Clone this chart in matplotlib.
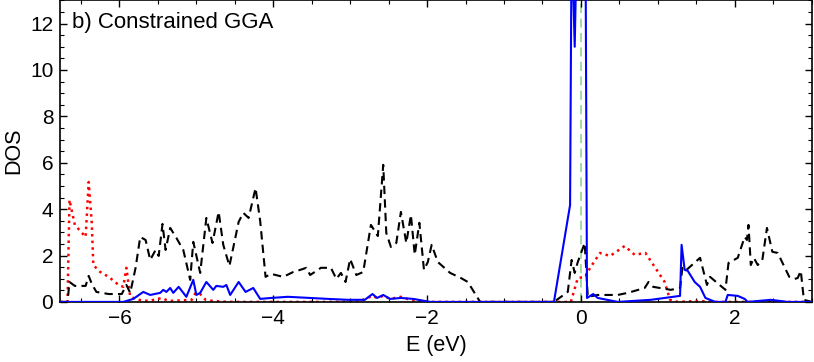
import numpy as np
import matplotlib
matplotlib.use('Agg')
import matplotlib.pyplot as plt
from matplotlib.ticker import MultipleLocator

plt.rcParams['font.family'] = ['Liberation Sans', 'DejaVu Sans']

# total DOS (black dashed)
e_tot = [-6.77, -6.675, -6.65, -6.58, -6.44, -6.40, -6.36, -6.30, -6.14, -5.97, -5.91, -5.86,
         -5.79, -5.73, -5.66, -5.60, -5.53, -5.49, -5.44, -5.40, -5.34, -5.26, -5.17, -5.08,
         -5.04, -4.95, -4.87, -4.79, -4.71, -4.65, -4.57, -4.45, -4.39, -4.32, -4.23, -4.17,
         -4.10, -4.03, -3.87, -3.74, -3.65, -3.57, -3.52, -3.38, -3.25, -3.18, -3.12, -3.06,
         -3.00, -2.92, -2.83, -2.73, -2.64, -2.57, -2.53, -2.47, -2.40, -2.34, -2.27, -2.21,
         -2.16, -2.10, -2.04, -1.99, -1.94, -1.86, -1.70, -1.56, -1.47, -1.31, -0.35, -0.17,
         -0.12, -0.08, -0.04, 0.05, 0.09, 0.22, 0.48, 0.61, 0.83, 0.88, 0.94, 1.17, 1.29,
         1.32, 1.36, 1.55, 1.64, 1.68, 1.88, 1.92, 2.04, 2.13, 2.16, 2.18, 2.21, 2.25, 2.30,
         2.36, 2.42, 2.49, 2.56, 2.71, 2.78, 2.82, 2.86, 2.90, 3.0]
dos_tot = [0, 0, 0.86, 0.69, 0.69, 1.12, 0.78, 0.43, 0.34, 0.34, 0.73, 0.39,
           1.47, 2.80, 2.67, 1.81, 2.24, 1.98, 3.36, 2.24, 3.19, 2.76, 2.24, 0.95,
           2.59, 1.25, 3.62, 2.54, 3.88, 2.46, 1.55, 3.45, 3.84, 3.62, 4.91, 3.49,
           1.08, 1.21, 1.08, 1.29, 1.38, 1.47, 1.16, 1.47, 1.47, 0.99, 1.25, 0.86,
           1.85, 1.16, 1.29, 3.32, 2.84, 5.91, 2.97, 2.37, 2.54, 3.88, 2.54, 3.75,
           2.03, 3.41, 1.38, 1.72, 2.46, 1.72, 1.25, 1.03, 0.86, 0, 0, 0.43,
           1.81, 1.25, 1.72, 2.54, 0.22, 0.30, 0.30, 0.39, 0.60, 0.86, 0.65, 0.52, 0.60,
           1.47, 1.34, 1.90, 0.73, 1.08, 0.52, 1.68, 1.90, 2.80, 2.67, 3.32, 1.59, 1.90, 1.59,
           1.81, 3.19, 2.16, 2.11, 1.08, 0.99, 1.03, 1.34, 0.09, 0]

# d-projected DOS (blue solid)
e_d = [-6.77, -5.95, -5.82, -5.69, -5.60, -5.47, -5.43, -5.39, -5.34, -5.30, -5.23, -5.13,
       -5.04, -5.00, -4.95, -4.87, -4.78, -4.74, -4.65, -4.61, -4.56, -4.45, -4.36, -4.26,
       -4.17, -4.03, -3.81, -3.52, -3.29, -3.03, -2.81, -2.71, -2.65, -2.57, -2.48, -2.34,
       -2.18, -1.96, -0.35, -0.14, -0.12, -0.08, -0.05, 0.0, 0.06, 0.08, 0.16, 0.22, 0.48,
       0.91, 1.29, 1.31, 1.35, 1.39, 1.48, 1.55, 1.62, 1.75, 1.88, 1.91, 2.04, 2.13, 2.17,
       2.47, 2.69, 3.0]
dos_d = [0, 0, 0.13, 0.43, 0.30, 0.39, 0.52, 0.43, 0.60, 0.39, 0.65, 0.22,
         0.95, 0.30, 0.39, 0.86, 0.52, 0.69, 0.65, 0.73, 0.30, 0.86, 0.43, 0.60,
         0.13, 0.17, 0.22, 0.17, 0.13, 0.09, 0.09, 0.34, 0.17, 0.30, 0.13, 0.17,
         0.13, 0, 0, 4.18, 16.0, 11.0, 16.0, 15.0, 16.0, 0.17, 0.34, 0.17, 0,
         0.09, 0.26, 2.46, 1.38, 1.34, 0.86, 0.65, 0.17, 0, 0, 0.30, 0.26, 0.13, 0,
         0.09, 0, 0]

# p-projected DOS (red dotted)
e_p = [-6.77, -6.675, -6.65, -6.58, -6.44, -6.40, -6.36, -6.34, -6.25, -6.14, -6.01, -5.95,
       -5.91, -5.86, -5.75, -5.62, -5.45, -5.36, -5.06, -5.01, -4.95, -4.88, -4.78, -4.58,
       -2.90, -2.71, -2.65, -2.57, -2.48, -2.34, -2.22, -2.05, -0.13, -0.04, 0.06, 0.12,
       0.25, 0.38, 0.57, 0.70, 0.84, 0.96, 1.09, 1.16, 1.26, 1.52, 1.78, 3.0]
dos_p = [0, 0, 4.40, 3.32, 2.80, 5.17, 3.41, 1.59, 1.29, 1.08, 0.73, 0.65,
         1.47, 0.22, 0.09, 0.04, 0.17, 0.04, 0.09, 0.39, 0.34, 0.09, 0.04, 0,
         0, 0.26, 0.17, 0.26, 0.13, 0.22, 0.09, 0, 0, 1.03, 1.08, 1.47,
         2.11, 1.98, 2.41, 2.03, 2.11, 1.51, 0.86, 0.09, 0, 0.04, 0, 0]

fig = plt.figure(figsize=(8.14, 3.62), dpi=100)
ax = fig.add_axes([0.074, 0.166, 0.923, 0.833])

ax.axvline(0, color='#9ad89a', ls=(0, (5, 3)), lw=1.3, zorder=1)
ax.plot(e_p, dos_p, color='red', ls=':', lw=1.8, zorder=2)
ax.plot(e_tot, dos_tot, color='black', ls=(0, (4, 2.5)), lw=1.5, zorder=3)
ax.plot(e_d, dos_d, color='blue', ls='-', lw=1.5, zorder=4)

ax.set_xlim(-6.77, 3.0)
ax.set_ylim(0, 13)
ax.xaxis.set_major_locator(MultipleLocator(2))
ax.xaxis.set_minor_locator(MultipleLocator(0.5))
ax.yaxis.set_major_locator(MultipleLocator(2))
ax.yaxis.set_minor_locator(MultipleLocator(0.5))
ax.tick_params(which='both', direction='in', top=True, right=True, labelsize=15)
ax.tick_params(which='major', length=5, width=1, pad=5)
ax.tick_params(which='minor', length=3, width=0.8)
for s in ax.spines.values():
    s.set_linewidth(1.2)

ax.set_xlabel('E (eV)', fontsize=15.5, labelpad=5)
ax.set_ylabel('DOS', fontsize=15.5, labelpad=4)
ax.text(0.015, 0.925, 'b) Constrained GGA', transform=ax.transAxes,
        fontsize=16, va='center', ha='left')

fig.savefig('out.png', dpi=100)
